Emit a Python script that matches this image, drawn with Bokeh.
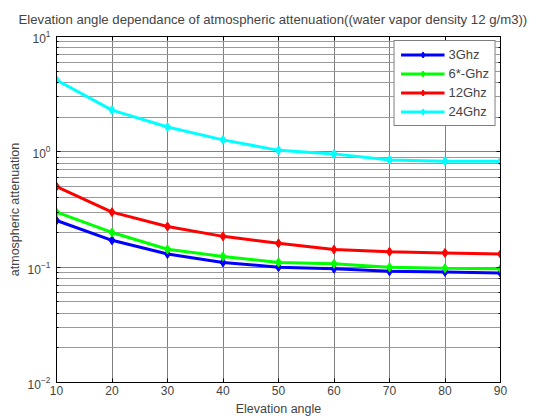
from bokeh.plotting import figure
from bokeh.models import Range1d, LinearAxis, LogAxis, FixedTicker, Legend, LegendItem, CustomJSTickFormatter
from bokeh.embed import file_html
from bokeh.resources import INLINE

angles = [10, 20, 30, 40, 50, 60, 70, 80, 90]
att_3ghz = [0.254, 0.171, 0.130, 0.110, 0.100, 0.097, 0.092, 0.091, 0.089]
att_6ghz = [0.300, 0.200, 0.143, 0.124, 0.110, 0.107, 0.100, 0.098, 0.097]
att_12ghz = [0.50, 0.30, 0.225, 0.185, 0.161, 0.142, 0.136, 0.133, 0.130]
att_24ghz = [4.2, 2.3, 1.64, 1.27, 1.03, 0.96, 0.85, 0.83, 0.83]
series_names = ["3Ghz", "6*-Ghz", "12Ghz", "24Ghz"]
series_colors = ["#0000ff", "#00ff00", "#ff0000", "#00ffff"]
x_ticks = [10, 20, 30, 40, 50, 60, 70, 80, 90]

FONT = "Liberation Sans"

p = figure(width=533, height=420, output_backend="svg", toolbar_location=None,
           y_axis_type="log", x_range=Range1d(10, 90), y_range=Range1d(0.01, 10),
           title="Elevation angle dependance of atmospheric attenuation((water vapor density 12 g/m3))",
           min_border_left=56, min_border_right=33, min_border_top=34, min_border_bottom=38)
p.title.text_font = FONT
p.title.text_font_size = "13.2px"
p.title.text_font_style = "normal"
p.title.align = "left"
p.title.offset = -38
p.title.standoff = 19
p.outline_line_color = "black"
p.outline_line_width = 1

p.xaxis.ticker = FixedTicker(ticks=x_ticks)
for ax in [p.xaxis[0], p.yaxis[0]]:
    ax.major_label_text_font = FONT
    ax.major_label_text_font_size = "12px"
    ax.axis_label_text_font = FONT
    ax.axis_label_text_font_size = "12.5px"
    ax.axis_label_text_font_style = "normal"
    ax.major_tick_in = 4
    ax.major_tick_out = 0
    ax.minor_tick_in = 2
    ax.minor_tick_out = 0
    ax.axis_line_color = "black"
p.xaxis.major_label_standoff = 3
p.xaxis.axis_label_standoff = 4
p.yaxis.major_label_standoff = 6
p.yaxis.axis_label_standoff = 3
p.xaxis.axis_label = "Elevation angle"
p.yaxis.axis_label = "atmospheric attenuation"

p.xgrid.grid_line_color = "#808080"
p.ygrid.grid_line_color = "#808080"
p.ygrid.minor_grid_line_color = "#9a9a9a"

ra = LogAxis(formatter=CustomJSTickFormatter(code="return '';"), major_tick_in=4, major_tick_out=0,
             minor_tick_in=2, minor_tick_out=0, major_label_standoff=0)
p.add_layout(ra, "right")
ta = LinearAxis(ticker=FixedTicker(ticks=x_ticks), formatter=CustomJSTickFormatter(code="return '';"),
                major_tick_in=4, major_tick_out=0, minor_tick_in=0, minor_tick_out=0,
                major_label_standoff=0)
p.add_layout(ta, "above")

items = []
for name, col, ys in zip(series_names, series_colors, [att_3ghz, att_6ghz, att_12ghz, att_24ghz]):
    l = p.line(angles, ys, line_color=col, line_width=3)
    m = p.scatter(angles, ys, marker="diamond", size=9, fill_color=col, line_color=col)
    items.append(LegendItem(label=name, renderers=[l, m]))

leg = Legend(items=items, location="top_right", border_line_color="black",
             border_line_width=1, label_text_font=FONT, label_text_font_size="13px",
             background_fill_alpha=1, spacing=4, padding=6, margin=4,
             glyph_width=44, glyph_height=15, label_height=15, label_standoff=4)
p.add_layout(leg)

open("out.html", "w").write(file_html(p, INLINE))
